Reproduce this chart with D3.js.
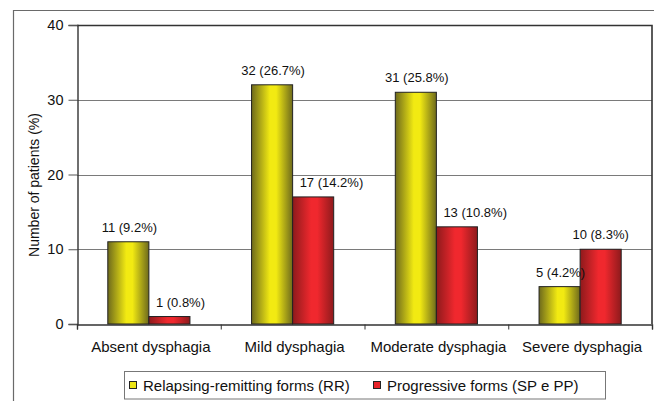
<!DOCTYPE html>
<html>
<head>
<meta charset="utf-8">
<script src="https://cdn.jsdelivr.net/npm/d3@7"></script>
<style>
html,body{margin:0;padding:0;background:#fff;}
svg{display:block;font-family:"Liberation Sans",Arial,Helvetica,sans-serif;}
</style>
</head>
<body>
<svg id="chart" width="654" height="401"></svg>
<script>
const categories = ["Absent dysphagia", "Mild dysphagia", "Moderate dysphagia", "Severe dysphagia"];
const seriesNames = ["Relapsing-remitting forms (RR)", "Progressive forms (SP e PP)"];
const rrValues = [11, 32, 31, 5];
const rrLabels = ["11 (9.2%)", "32 (26.7%)", "31 (25.8%)", "5 (4.2%)"];
const ppValues = [1, 17, 13, 10];
const ppLabels = ["1 (0.8%)", "17 (14.2%)", "13 (10.8%)", "10 (8.3%)"];
const yTicks = [0, 10, 20, 30, 40];
const yTitle = "Number of patients (%)";

const svg = d3.select("#chart");
const W = 654, H = 401;
const m = {left: 77, top: 25, right: 652, bottom: 324};

// gradients
const defs = svg.append("defs");
function grad(id, edge, mid) {
  const g = defs.append("linearGradient").attr("id", id).attr("x1", "0%").attr("x2", "100%").attr("y1", "0%").attr("y2", "0%");
  g.append("stop").attr("offset", "0%").attr("stop-color", edge);
  g.append("stop").attr("offset", "45%").attr("stop-color", mid);
  g.append("stop").attr("offset", "60%").attr("stop-color", mid);
  g.append("stop").attr("offset", "100%").attr("stop-color", edge);
}
grad("gY", "#6e6a1c", "#f2ea12");
grad("gR", "#8e1a1c", "#f0282e");

// outer frame lines
svg.append("line").attr("x1", 13).attr("x2", W).attr("y1", 10.5).attr("y2", 10.5).attr("stroke", "#6a6a6a").attr("stroke-width", 1.2);
svg.append("line").attr("x1", 13.5).attr("x2", 13.5).attr("y1", 10).attr("y2", H).attr("stroke", "#6a6a6a").attr("stroke-width", 1.2);

const x0 = d3.scaleBand().domain(categories).range([m.left, m.right]).paddingInner(0).paddingOuter(0);
const bw = x0.bandwidth() / 3.5;
const y = d3.scaleLinear().domain([0, 40]).range([m.bottom, m.top]);

// gridlines
svg.append("g").selectAll("line").data(yTicks.filter(t => t > 0 && t < 40)).join("line")
  .attr("x1", m.left).attr("x2", m.right)
  .attr("y1", d => Math.round(y(d)) + 0.5).attr("y2", d => Math.round(y(d)) + 0.5)
  .attr("stroke", "#7a7a7a").attr("stroke-width", 1);

// plot top and right border
svg.append("path")
  .attr("d", `M${m.left},${m.top + 0.5} H${m.right} V${m.bottom}`)
  .attr("fill", "none").attr("stroke", "#333").attr("stroke-width", 1.6);

// y axis
const yAxis = d3.axisLeft(y).tickValues(yTicks).tickSize(9).tickPadding(5).tickFormat(d3.format("d"));
const ya = svg.append("g").attr("transform", `translate(${m.left + 0.5},0)`).call(yAxis);
ya.select(".domain").attr("stroke", "#333").attr("stroke-width", 1.4);
ya.selectAll(".tick line").attr("stroke", "#555");
ya.selectAll("text").attr("font-size", 14.5).attr("fill", "#111").attr("font-family", "Liberation Sans, Arial, sans-serif");

// x axis
const xAxis = d3.axisBottom(d3.scaleLinear().domain([0, 4]).range([m.left, m.right])).tickValues([0,1,2,3,4]).tickSize(5).tickFormat("");
const xa = svg.append("g").attr("transform", `translate(0,${m.bottom + 0.5})`).call(xAxis);
xa.select(".domain").attr("stroke", "#333").attr("stroke-width", 1.4);
xa.selectAll(".tick line").attr("stroke", "#333");

// category labels
svg.append("g").selectAll("text").data(categories).join("text")
  .attr("x", d => x0(d) + x0.bandwidth() / 2 + 2)
  .attr("y", 352)
  .attr("text-anchor", "middle").attr("font-size", 15).attr("fill", "#111")
  .text(d => d);

// bars
const series = [
  {vals: rrValues, labels: rrLabels, fill: "url(#gY)", off: 0.75},
  {vals: ppValues, labels: ppLabels, fill: "url(#gR)", off: 1.75}
];
series.forEach(s => {
  const g = svg.append("g");
  g.selectAll("rect").data(categories).join("rect")
    .attr("x", (d) => x0(d) + s.off * bw)
    .attr("y", (d, i) => y(s.vals[i]))
    .attr("width", bw)
    .attr("height", (d, i) => m.bottom - y(s.vals[i]))
    .attr("fill", s.fill).attr("stroke", "#222").attr("stroke-width", 1);
});

// value labels; red labels are nudged right when they would collide with the taller yellow bar
const labelLayer = svg.append("g");
categories.forEach((c, i) => {
  const yx = x0(c) + 0.75 * bw;
  labelLayer.append("text")
    .attr("x", yx + bw / 2 + 1).attr("y", y(rrValues[i]) - 10)
    .attr("text-anchor", "middle").attr("font-size", 13).attr("fill", "#111")
    .text(rrLabels[i]);
  const rx = x0(c) + 1.75 * bw;
  const base = y(ppValues[i]) - 10;
  const t = labelLayer.append("text")
    .attr("y", base).attr("font-size", 13).attr("fill", "#111")
    .text(ppLabels[i]);
  const w = t.node().getComputedTextLength();
  let left = rx + bw / 2 - w / 2;
  if (base > y(rrValues[i]) - 12 && left < rx + 7) left = rx + 7;
  t.attr("x", left);
});

// y title
svg.append("text")
  .attr("transform", `translate(39,185) rotate(-90)`)
  .attr("text-anchor", "middle").attr("font-size", 14).attr("fill", "#111")
  .text(yTitle);

// legend
const lg = svg.append("g");
lg.append("rect").attr("x", 124.5).attr("y", 371.5).attr("width", 481).attr("height", 27.5)
  .attr("fill", "#fff").attr("stroke", "#777").attr("stroke-width", 1);
const legendItems = [
  {name: seriesNames[0], color: "#ece414", x: 129},
  {name: seriesNames[1], color: "#e8232a", x: 373}
];
legendItems.forEach(it => {
  lg.append("rect").attr("x", it.x + 0.5).attr("y", 381.5).attr("width", 7).attr("height", 7)
    .attr("fill", it.color).attr("stroke", "#222").attr("stroke-width", 1);
  lg.append("text").attr("x", it.x + 14).attr("y", 391).attr("font-size", 15).attr("fill", "#111").text(it.name);
});
</script>
</body>
</html>
